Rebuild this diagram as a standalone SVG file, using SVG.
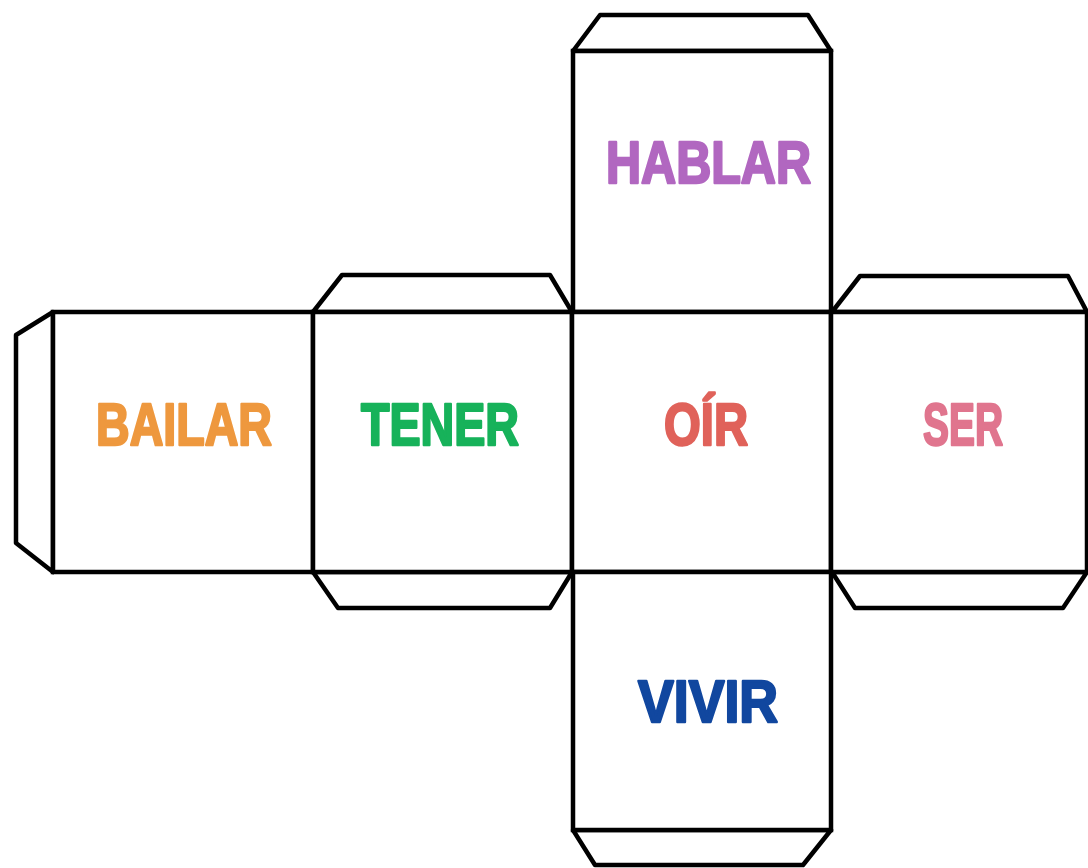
<svg xmlns="http://www.w3.org/2000/svg" width="1088" height="868" viewBox="0 0 1088 868">
<style>
.face{fill:#fff;stroke:#000;stroke-width:4.5;stroke-linejoin:miter}
.tab{fill:#fff;stroke:#000;stroke-width:4.5;stroke-linejoin:round}
.lbl{font-family:"Liberation Sans",Arial,sans-serif;font-weight:bold;font-size:60px;text-anchor:start;stroke-width:2.5;stroke-linejoin:round}
</style>
<rect width="1088" height="868" fill="#fff"/>
<g id="tabs">
<polygon class="tab" points="573,51 600,15 808,15 831,51"/>
<polygon class="tab" points="313,312 342,275 550,275 572,312"/>
<polygon class="tab" points="832,312 860,276 1068,276 1087,312"/>
<polygon class="tab" points="53,312 16,335 16,543 53,572"/>
<polygon class="tab" points="313,572 338,608 550,608 572,572"/>
<polygon class="tab" points="832,572 855,608 1063,608 1087,572"/>
<polygon class="tab" points="573,830 595,865 803,865 831,830"/>
</g>
<g id="hablar"><rect class="face" x="573" y="51" width="258" height="261"/><text class="lbl" x="606" y="183" fill="#B167C0" stroke="#B167C0" textLength="205" lengthAdjust="spacingAndGlyphs">HABLAR</text></g>
<g id="bailar"><rect class="face" x="53" y="312" width="260" height="260"/><text class="lbl" x="96" y="445" fill="#EE983E" stroke="#EE983E" textLength="176" lengthAdjust="spacingAndGlyphs">BAILAR</text></g>
<g id="tener"><rect class="face" x="313" y="312" width="259" height="260"/><text class="lbl" x="361" y="445" fill="#17B25A" stroke="#17B25A" textLength="158" lengthAdjust="spacingAndGlyphs">TENER</text></g>
<g id="oir"><rect class="face" x="572" y="312" width="259" height="260"/><text class="lbl" x="664" y="445" fill="#E0625A" stroke="#E0625A" textLength="84" lengthAdjust="spacingAndGlyphs">OÍR</text></g>
<g id="ser"><rect class="face" x="831" y="312" width="256" height="260"/><text class="lbl" x="923" y="445" fill="#E0758E" stroke="#E0758E" textLength="80" lengthAdjust="spacingAndGlyphs">SER</text></g>
<g id="vivir"><rect class="face" x="573" y="572" width="258" height="258"/><text class="lbl" x="638" y="722" fill="#11479F" stroke="#11479F" textLength="140" lengthAdjust="spacingAndGlyphs">VIVIR</text></g>
</svg>
